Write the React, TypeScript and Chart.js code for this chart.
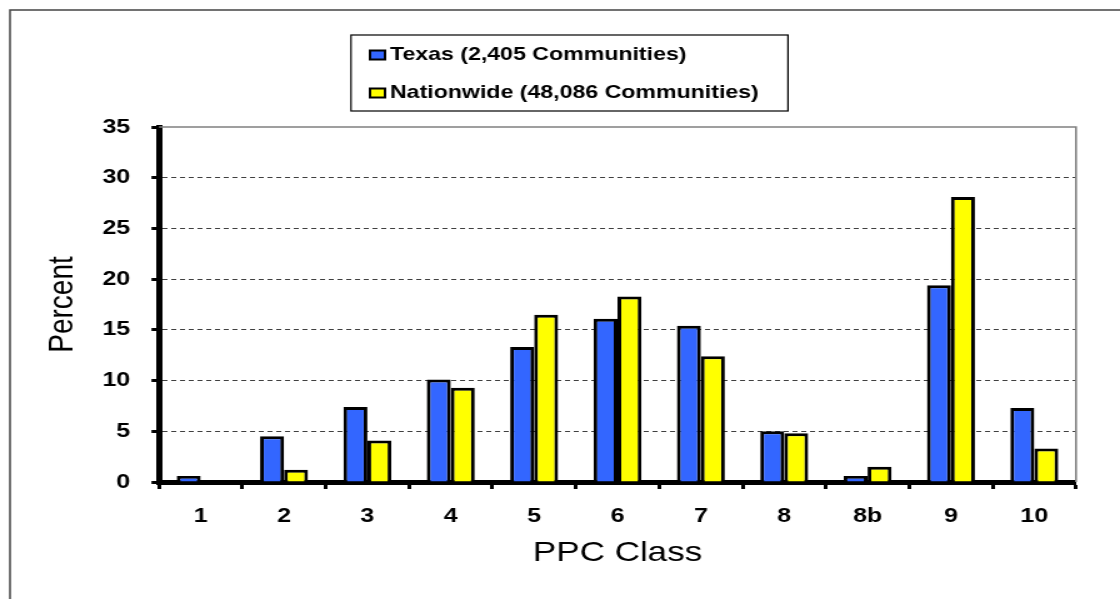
import React, { useEffect, useRef } from 'react';
import { Chart, registerables } from 'chart.js';

Chart.register(...registerables);

// ---- data ----
const categories = ['1', '2', '3', '4', '5', '6', '7', '8', '8b', '9', '10'];
const texasValues = [0.6, 4.5, 7.4, 10.1, 13.3, 16.1, 15.4, 5.0, 0.6, 19.4, 7.3];
const nationwideValues = [0, 1.2, 4.1, 9.3, 16.5, 18.3, 12.4, 4.8, 1.5, 28.1, 3.3];
const seriesLabels = ['Texas (2,405 Communities)', 'Nationwide (48,086 Communities)'];
const seriesColors = ['#3366FF', '#FFFF00'];
const yMin = 0;
const yMax = 35;
const yStep = 5;
const xTitle = 'PPC Class';
const yTitle = 'Percent';

// ---- layout (bitmap is drawn narrower and stretched horizontally) ----
const PAGE_W = 1120;
const PAGE_H = 599;
const SX = 1.25;
const BW = PAGE_W / SX; // 896
const FONT = '"Liberation Sans", Arial, Helvetica, sans-serif';

const framePlugin = {
  id: 'frame',
  beforeDraw(chart: any) {
    const ctx = chart.ctx;
    ctx.save();
    ctx.fillStyle = '#ffffff';
    ctx.fillRect(0, 0, chart.width, chart.height);
    ctx.strokeStyle = '#444444';
    ctx.lineWidth = 1.5;
    ctx.beginPath();
    ctx.moveTo(8, chart.height + 5);
    ctx.lineTo(8, 10);
    ctx.lineTo(chart.width + 5, 10);
    ctx.stroke();
    ctx.restore();
  },
};

const plotBorderPlugin = {
  id: 'plotBorder',
  afterDraw(chart: any) {
    const { ctx, chartArea } = chart;
    ctx.save();
    ctx.strokeStyle = '#808080';
    ctx.lineWidth = 1.6;
    ctx.beginPath();
    ctx.moveTo(chartArea.left, chartArea.top);
    ctx.lineTo(chartArea.right, chartArea.top);
    ctx.lineTo(chartArea.right, chartArea.bottom);
    ctx.stroke();
    ctx.restore();
  },
};

const boxLegendPlugin = {
  id: 'boxLegend',
  afterDraw(chart: any) {
    const ctx = chart.ctx;
    const x1 = 280.8, y1 = 35, x2 = 630.4, y2 = 111;
    const rowY = [55, 93];
    ctx.save();
    ctx.strokeStyle = '#000000';
    ctx.lineWidth = 1.2;
    ctx.strokeRect(x1, y1, x2 - x1, y2 - y1);
    chart.data.datasets.forEach((ds: any, i: number) => {
      const y = rowY[i];
      ctx.fillStyle = ds.backgroundColor;
      ctx.fillRect(296, y - 4.5, 12, 9);
      ctx.lineWidth = 2;
      ctx.strokeStyle = '#000000';
      ctx.strokeRect(296, y - 4.5, 12, 9);
      ctx.fillStyle = '#000000';
      ctx.font = `bold 18.5px ${FONT}`;
      ctx.textBaseline = 'middle';
      ctx.textAlign = 'left';
      ctx.fillText(ds.label, 312, y);
    });
    ctx.restore();
  },
};

export default function App() {
  const canvasRef = useRef<HTMLCanvasElement | null>(null);

  useEffect(() => {
    document.body.style.margin = '0';
    const canvas = canvasRef.current;
    if (!canvas) return;
    Chart.defaults.font.family = FONT;
    Chart.defaults.color = '#000000';

    const chart = new Chart(canvas, {
      type: 'bar',
      data: {
        labels: categories,
        datasets: [
          {
            label: seriesLabels[0],
            data: texasValues,
            backgroundColor: seriesColors[0],
            borderColor: '#000000',
            borderWidth: 3,
            categoryPercentage: 0.575,
            barPercentage: 1.0,
          },
          {
            label: seriesLabels[1],
            data: nationwideValues,
            backgroundColor: seriesColors[1],
            borderColor: '#000000',
            borderWidth: 3,
            categoryPercentage: 0.575,
            barPercentage: 1.0,
          },
        ],
      },
      options: {
        responsive: false,
        maintainAspectRatio: false,
        devicePixelRatio: 1,
        animation: false,
        layout: { padding: { top: 127, left: 0, right: BW - 860.8, bottom: 17 } },
        plugins: {
          legend: { display: false },
          tooltip: { enabled: false },
          title: { display: false },
        },
        scales: {
          x: {
            z: 1,
            offset: true,
            grid: {
              display: true,
              offset: true,
              drawOnChartArea: false,
              drawTicks: true,
              tickLength: 7,
              tickColor: '#000000',
              tickWidth: 3,
            },
            border: { display: true, color: '#000000', width: 5 },
            ticks: {
              color: '#000000',
              font: { size: 20, weight: 'bold' },
              padding: 15,
              maxRotation: 0,
              autoSkip: false,
            },
            title: {
              display: true,
              text: xTitle,
              color: '#000000',
              font: { size: 28, weight: 'normal' },
              padding: { top: 0, bottom: 12 },
            },
            afterFit(scale: any) {
              scale.height = 100;
            },
          },
          y: {
            min: yMin,
            max: yMax,
            grid: {
              display: true,
              drawOnChartArea: true,
              drawTicks: true,
              tickLength: 6,
              tickColor: '#000000',
              tickWidth: 3,
              tickBorderDash: [],
              lineWidth: 1,
              color: (c: any) =>
                c.tick && (c.tick.value === yMin || c.tick.value === yMax)
                  ? 'rgba(0,0,0,0)'
                  : '#404040',
            },
            border: { display: true, color: '#000000', width: 5, dash: [4, 3] as any },
            ticks: {
              stepSize: yStep,
              color: '#000000',
              font: { size: 20, weight: 'bold' },
              padding: 17,
            },
            title: {
              display: true,
              text: yTitle,
              color: '#000000',
              font: { size: 28, weight: 'normal' },
              padding: { top: 33, bottom: 0 },
            },
            afterFit(scale: any) {
              scale.width = 127.2;
            },
          },
        },
      } as any,
      plugins: [framePlugin, plotBorderPlugin, boxLegendPlugin],
    });

    return () => {
      chart.destroy();
    };
  }, []);

  return (
    <canvas
      ref={canvasRef}
      width={BW}
      height={PAGE_H}
      style={{ display: 'block', width: `${PAGE_W}px`, height: `${PAGE_H}px` }}
    />
  );
}
